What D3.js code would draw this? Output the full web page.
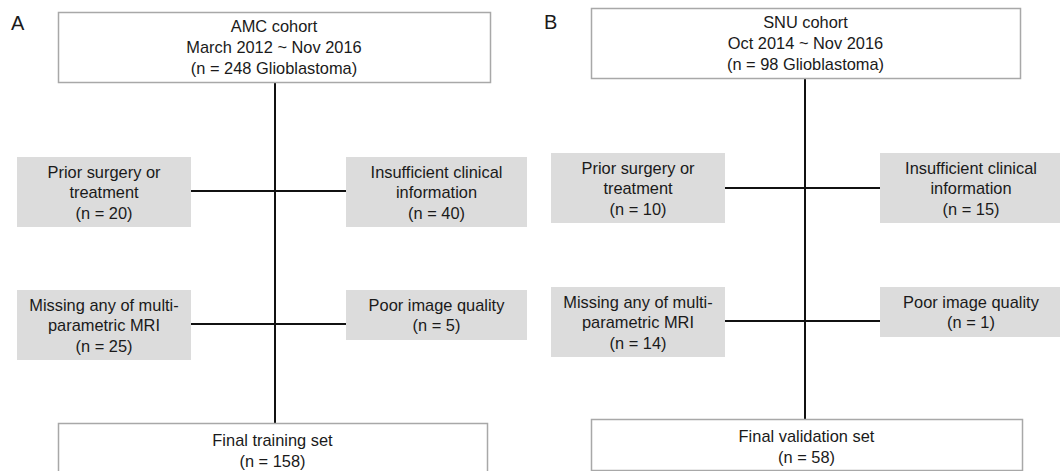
<!DOCTYPE html>
<html>
<head>
<meta charset="utf-8">
<script src="https://cdn.jsdelivr.net/npm/d3@7"></script>
<style>
  html, body { margin: 0; padding: 0; background: #fff; }
  svg { display: block; }
  text { font-family: "Liberation Sans", Arial, sans-serif; fill: #1a1a1a; }
</style>
</head>
<body>
<svg id="chart" width="1060" height="471"></svg>
<script>
// ---------- data ----------
const panelLabels = ["A", "B"];
const cohortNames = ["AMC cohort", "SNU cohort"];
const cohortPeriods = ["March 2012 ~ Nov 2016", "Oct 2014 ~ Nov 2016"];
const cohortTotals = [248, 98];
const exclusionReasons = [
  ["Prior surgery or", "treatment"],
  ["Insufficient clinical", "information"],
  ["Missing any of multi-", "parametric MRI"],
  ["Poor image quality"]
];
const excludedAMC = [20, 40, 25, 5];
const excludedSNU = [10, 15, 14, 1];
const finalSetNames = ["Final training set", "Final validation set"];
const finalCounts = [158, 58];

// ---------- layout (positions kept separate from data) ----------
const layouts = [
  { label: [11, 30], top: { x: 58, y: 12, w: 432, h: 70 }, vx: 275,
    rows: [191, 324],
    left: { x: 17, w: 174 }, right: { x: 346, w: 181 },
    boxTops: [157, 290], boxH: [70, 70, 70, 50],
    bottom: { x: 58, y: 423, w: 429, h: 60 } },
  { label: [544, 29], top: { x: 591, y: 8, w: 429, h: 70 }, vx: 805,
    rows: [188, 321],
    left: { x: 551, w: 174 }, right: { x: 880, w: 182 },
    boxTops: [153, 287], boxH: [70, 70, 70, 50],
    bottom: { x: 591, y: 419, w: 431, h: 51 } }
];

const svg = d3.select("#chart");
const FS = 16.4, LH = 20.5;
const excluded = [excludedAMC, excludedSNU];

function multiline(g, cx, cy, lines, lh) {
  const n = lines.length;
  g.selectAll(null).data(lines).join("text")
    .attr("x", cx)
    .attr("y", (d, i) => cy + (i - (n - 1) / 2) * lh)
    .attr("text-anchor", "middle")
    .attr("dominant-baseline", "central")
    .attr("font-size", FS)
    .text(d => d);
}

panelLabels.forEach((p, pi) => {
  const L = layouts[pi];
  const g = svg.append("g");

  // connector lines (drawn first)
  g.append("line")
    .attr("x1", L.vx).attr("x2", L.vx)
    .attr("y1", L.top.y + L.top.h).attr("y2", L.bottom.y)
    .attr("stroke", "#111").attr("stroke-width", 2);
  L.rows.forEach(ry => {
    g.append("line")
      .attr("x1", L.left.x + L.left.w).attr("x2", L.right.x)
      .attr("y1", ry).attr("y2", ry)
      .attr("stroke", "#111").attr("stroke-width", 1.8);
  });

  // panel label
  g.append("text")
    .attr("x", L.label[0]).attr("y", L.label[1])
    .attr("font-size", 20)
    .text(p);

  // top cohort box
  g.append("rect")
    .attr("x", L.top.x + 0.5).attr("y", L.top.y + 0.5)
    .attr("width", L.top.w).attr("height", L.top.h)
    .attr("fill", "#fff").attr("stroke", "#a8a8a8").attr("stroke-width", 1.5);
  multiline(g, L.top.x + L.top.w / 2, L.top.y + L.top.h / 2,
    [cohortNames[pi], cohortPeriods[pi], `(n = ${cohortTotals[pi]} Glioblastoma)`], 21);

  // exclusion boxes
  exclusionReasons.forEach((reason, ri) => {
    const side = ri % 2 === 0 ? L.left : L.right;
    const y = L.boxTops[Math.floor(ri / 2)];
    const h = L.boxH[ri];
    g.append("rect")
      .attr("x", side.x).attr("y", y)
      .attr("width", side.w).attr("height", h)
      .attr("fill", "#dcdcdc");
    multiline(g, side.x + side.w / 2, y + h / 2,
      reason.concat([`(n = ${excluded[pi][ri]})`]), LH);
  });

  // bottom final box
  g.append("rect")
    .attr("x", L.bottom.x + 0.5).attr("y", L.bottom.y + 0.5)
    .attr("width", L.bottom.w).attr("height", L.bottom.h)
    .attr("fill", "#fff").attr("stroke", "#a8a8a8").attr("stroke-width", 1.5);
  multiline(g, L.bottom.x + L.bottom.w / 2, L.bottom.y + 27,
    [finalSetNames[pi], `(n = ${finalCounts[pi]})`], 21);
});
</script>
</body>
</html>
